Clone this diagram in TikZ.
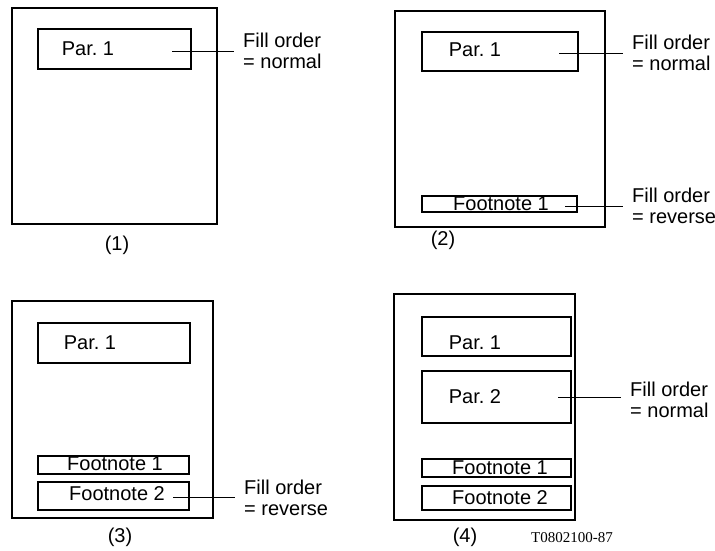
\documentclass[tikz,border=0pt]{standalone}
\usepackage{fontspec}
\setmainfont{Liberation Sans}
\newfontfamily\codefont{Liberation Serif}
\usetikzlibrary{positioning}

\tikzset{
    txt/.style={font=\fontsize{20}{21}\selectfont\frenchspacing, inner sep=0pt},
    page/.style={draw, line width=1.3pt, inner sep=0pt},
    box/.style={draw, line width=1.8pt, inner sep=0pt},
    lbl/.style={txt, anchor=west, align=left, inner xsep=9pt},
    lead/.style={line width=1pt}
}

\begin{document}
\begin{tikzpicture}[x=1pt, y=-1pt]
        \useasboundingbox (0,0) rectangle (715,551);

        % --- pages ---
        \foreach \n/\x/\y/\w/\h in {1/114.5/116/205/216, 2/500/119/210/216,
                                    3/112.5/409.5/201/217, 4/484.5/407/181/226}
            \node[page, minimum width=\w, minimum height=\h] (pg\n) at (\x,\y) {};

        % captions
        \foreach \n/\x/\y in {1/117/245, 2/443/240, 3/120/537, 4/465/537}
            \node[txt] (cap\n) at (\x,\y) {(\n)};
        \node[font=\codefont\fontsize{15}{17}\selectfont, inner sep=0pt] (code) at (572,538) {T0802100-87};

        % --- (1) ---
        \node[box, minimum width=153, minimum height=40] (par1a) at (114.5,49) {};
        \node[txt] (t1a) at (88,49) {Par. 1};
        \coordinate (c1a) at (172,52);
        \node[lbl] (o1a) at (234,51) {Fill order\\= normal};
        \draw[lead] (c1a) -- (c1a -| o1a.west);

        % --- (2) ---
        \node[box, minimum width=156, minimum height=39] (par2a) at (500,51.5) {};
        \node[txt] (t2a) at (475,50) {Par. 1};
        \coordinate (c2a) at (559,54);
        \node[lbl] (o2a) at (623,53) {Fill order\\= normal};
        \draw[lead] (c2a) -- (c2a -| o2a.west);

        \node[box, minimum width=155, minimum height=16] (fn2a) at (499.5,204) {};
        \node[txt] (t2b) at (501,204) {Footnote 1};
        \coordinate (c2b) at (565,206);
        \node[lbl] (o2b) at (623,205.5) {Fill order\\= reverse};
        \draw[lead] (c2b) -- (c2b -| o2b.west);

        % --- (3) ---
        \node[box, minimum width=152, minimum height=40] (par3a) at (114,343) {};
        \node[txt] (t3a) at (90,343) {Par. 1};
        \node[box, minimum width=151, minimum height=18] (fn3a) at (113.5,465) {};
        \node[txt] (t3b) at (115,464) {Footnote 1};
        \node[box, minimum width=151, minimum height=28] (fn3b) at (113.5,496) {};
        \node[txt] (t3c) at (117,494) {Footnote 2};
        \coordinate (c3b) at (173,497);
        \node[lbl] (o3b) at (235,498) {Fill order\\= reverse};
        \draw[lead] (c3b) -- (c3b -| o3b.west);

        % --- (4) ---
        \node[box, minimum width=149, minimum height=39] (par4a) at (496.5,336.5) {};
        \node[txt] (t4a) at (475,343) {Par. 1};
        \node[box, minimum width=149, minimum height=52] (par4b) at (496.5,397) {};
        \node[txt] (t4b) at (475,397) {Par. 2};
        \coordinate (c4b) at (558,397);
        \node[lbl] (o4b) at (621,399.5) {Fill order\\= normal};
        \draw[lead] (c4b) -- (c4b -| o4b.west);
        \node[box, minimum width=149, minimum height=18] (fn4a) at (496.5,468) {};
        \node[txt] (t4c) at (500,468) {Footnote 1};
        \node[box, minimum width=149, minimum height=24] (fn4b) at (496.5,498) {};
        \node[txt] (t4d) at (500,498) {Footnote 2};

    \end{tikzpicture}
\end{document}
